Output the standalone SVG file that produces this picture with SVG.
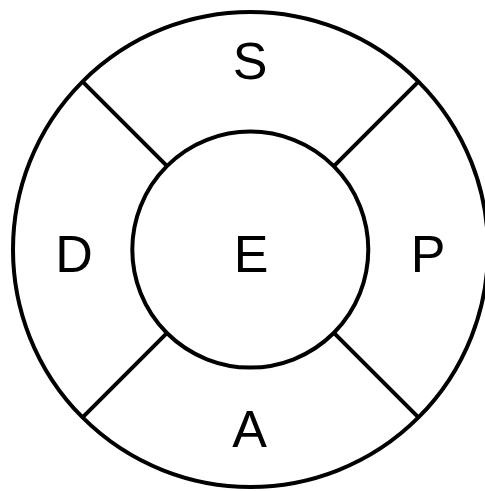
<svg xmlns="http://www.w3.org/2000/svg" width="485" height="491" viewBox="0 0 485 491">
<style>
.ln{fill:none;stroke:#000;stroke-width:4}
.lb{font-family:"Liberation Sans",Arial,sans-serif;font-size:52px;fill:#000;text-anchor:middle}
</style>
<rect width="485" height="491" fill="#fff"/>
<g id="ring">
<circle class="ln" cx="250.5" cy="249.5" r="237.5"/>
</g>
<g id="connectors">
<line class="ln" x1="82.6" y1="81.6" x2="167.1" y2="166.1"/>
<line class="ln" x1="418.4" y1="81.6" x2="333.9" y2="166.1"/>
<line class="ln" x1="82.6" y1="417.4" x2="167.1" y2="332.9"/>
<line class="ln" x1="418.4" y1="417.4" x2="333.9" y2="332.9"/>
</g>
<g id="node-E">
<circle class="ln" cx="250.3" cy="249.6" r="118"/>
<text class="lb" x="251" y="271.5">E</text>
</g>
<g id="node-S"><text class="lb" x="250" y="78.5">S</text></g>
<g id="node-D"><text class="lb" x="74" y="271.5">D</text></g>
<g id="node-P"><text class="lb" x="428" y="271.5">P</text></g>
<g id="node-A"><text class="lb" x="249.5" y="447">A</text></g>
</svg>
